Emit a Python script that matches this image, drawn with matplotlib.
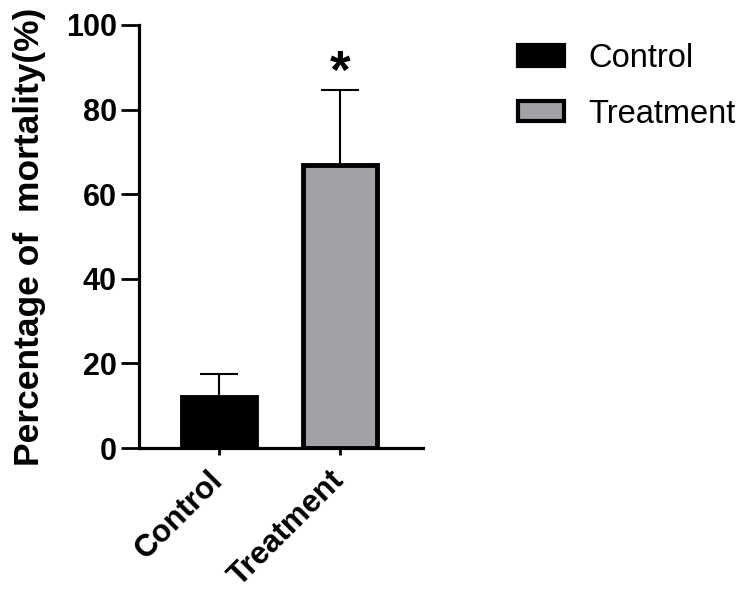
import matplotlib

matplotlib.use("Agg")
import matplotlib.pyplot as plt
from matplotlib.patches import Patch

plt.rcParams["font.family"] = ["Liberation Sans", "DejaVu Sans"]

groups = ["Control", "Treatment"]
means = [12.0, 66.8]
errors = [5.6, 17.8]
fills = ["#000000", "#A2A1A6"]
y_ticks = [0, 20, 40, 60, 80, 100]

fig = plt.figure(figsize=(7.42, 5.96), dpi=100)
ax = fig.add_axes([139 / 742, 1 - 448 / 596, (423 - 139) / 742, (448 - 25) / 596])

x = list(range(len(groups)))
ax.bar(x, means, width=0.61, color=fills, edgecolor="black", linewidth=3.5, zorder=2)
ax.errorbar(x, means, yerr=[[0, 0], errors], fmt="none", ecolor="black",
            elinewidth=1.5, capsize=14, capthick=1.5, zorder=1)

# significance marker above the treatment bar
ax.text(x[1], means[1] + errors[1] - 2.0, "*", ha="center", va="bottom",
        fontsize=38, fontweight="bold")

ax.set_xlim(-0.661, 1.686)
ax.set_ylim(0, 100)
ax.set_yticks(y_ticks)
ax.set_xticks(x)
ax.set_xticklabels(groups, rotation=45, ha="right", va="center", rotation_mode="anchor",
                   fontsize=22.5, fontweight="bold")
ax.tick_params(axis="y", length=13, width=2, labelsize=22, pad=3)
ax.tick_params(axis="x", length=5, width=2, pad=15)
for lab in ax.get_yticklabels():
    lab.set_fontweight("bold")

for side in ["top", "right"]:
    ax.spines[side].set_visible(False)
for side in ["left", "bottom"]:
    ax.spines[side].set_linewidth(2.3)

ax.set_ylabel("Percentage of  mortality(%)", fontsize=25.5, fontweight="bold", labelpad=14)

handles = [Patch(facecolor=fills[i], edgecolor="black", linewidth=3, label=groups[i])
           for i in range(len(groups))]
fig.legend(handles=handles, loc="upper left", bbox_to_anchor=(505 / 742, 1 - 30 / 596),
           frameon=False, fontsize=23.5, handlelength=1.4, handleheight=0.6,
           handletextpad=0.75, labelspacing=0.75, borderaxespad=0)

fig.savefig("out.png", dpi=100, facecolor="white")
